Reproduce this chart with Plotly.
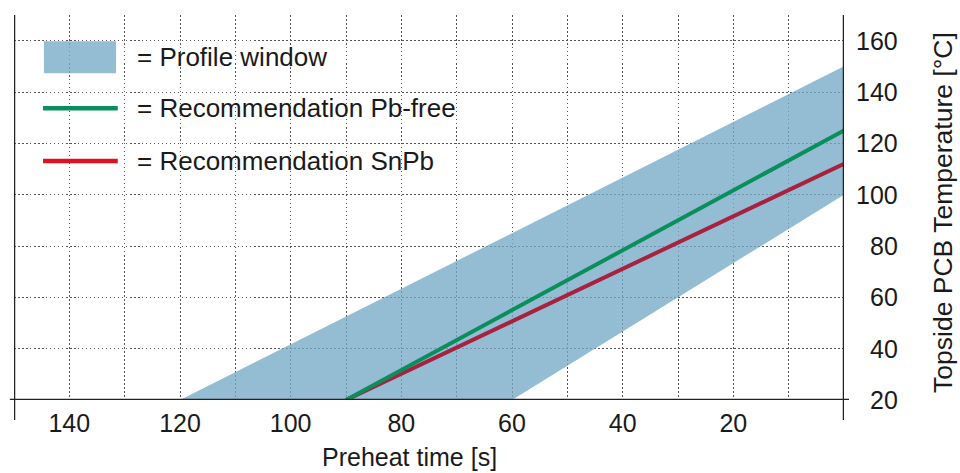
import plotly.graph_objects as go

# ---- data ----
x_ticks = [140, 120, 100, 80, 60, 40, 20]
x_grid = [10, 20, 30, 40, 50, 60, 70, 80, 90, 100, 110, 120, 130, 140]
y_ticks = [20, 40, 60, 80, 100, 120, 140, 160]

band_upper_x = [120, 0]
band_upper_y = [20, 150]
band_lower_x = [0, 60]
band_lower_y = [100, 20]

pbfree_x = [90, 0]
pbfree_y = [20, 125]
snpb_x = [90, 0]
snpb_y = [20, 112]

legend_labels = ["= Profile window", "= Recommendation Pb-free", "= Recommendation SnPb"]

FONT = "Liberation Sans, Arial, sans-serif"
TXT = "#1a1a1a"
BAND_FILL = "rgba(118,170,200,0.78)"
GREEN = "#0a8f5c"
RED_LINE = "#a82240"
RED_LEG = "#e0101e"
GRID = "#555555"
GRID_DASH = "1.5px,2.5px"

fig = go.Figure()

# dummy trace to activate grid axis x2
fig.add_trace(go.Scatter(x=[None], y=[None], xaxis="x2", showlegend=False, hoverinfo="skip"))

fig.add_trace(go.Scatter(
    x=band_upper_x + band_lower_x,
    y=band_upper_y + band_lower_y,
    fill="toself", fillcolor=BAND_FILL,
    line=dict(width=0), mode="lines", hoverinfo="skip", showlegend=False,
))
fig.add_trace(go.Scatter(x=snpb_x, y=snpb_y, mode="lines",
                         line=dict(color=RED_LINE, width=4), showlegend=False))
fig.add_trace(go.Scatter(x=pbfree_x, y=pbfree_y, mode="lines",
                         line=dict(color=GREEN, width=4), showlegend=False))

shapes = []
# axis lines
shapes.append(dict(type="line", xref="paper", yref="y", x0=-0.005, x1=1.006,
                   y0=20, y1=20, line=dict(color="#222", width=2.5), layer="above"))
shapes.append(dict(type="line", xref="x", yref="paper", x0=150, x1=150,
                   y0=-0.052, y1=1.0, line=dict(color="#222", width=2.5), layer="above"))
shapes.append(dict(type="line", xref="x", yref="paper", x0=0, x1=0,
                   y0=-0.052, y1=1.0, line=dict(color="#222", width=2.5), layer="above"))
# legend swatches
shapes.append(dict(type="rect", xref="paper", yref="paper", x0=0.036, x1=0.123,
                   y0=0.849, y1=0.932, fillcolor=BAND_FILL, line=dict(width=0), layer="above"))
shapes.append(dict(type="line", xref="paper", yref="paper", x0=0.035, x1=0.125,
                   y0=0.758, y1=0.758, line=dict(color=GREEN, width=4.5), layer="above"))
shapes.append(dict(type="line", xref="paper", yref="paper", x0=0.035, x1=0.125,
                   y0=0.621, y1=0.621, line=dict(color=RED_LEG, width=4.5), layer="above"))

annotations = []
for lab, yy in zip(legend_labels, [0.891, 0.758, 0.621]):
    annotations.append(dict(text=lab, xref="paper", yref="paper", x=0.146, y=yy,
                            xanchor="left", yanchor="middle", showarrow=False,
                            font=dict(family=FONT, size=26, color=TXT)))
for v in y_ticks:
    annotations.append(dict(text=str(v), xref="paper", yref="y", x=1.0675, y=v,
                            xanchor="right", yanchor="middle", showarrow=False,
                            font=dict(family=FONT, size=25, color=TXT)))
annotations.append(dict(text="Topside PCB Temperature [°C]", xref="paper", yref="paper",
                        x=1.119, y=0.488, textangle=-90, showarrow=False,
                        xanchor="center", yanchor="middle",
                        font=dict(family=FONT, size=26.5, color=TXT)))
annotations.append(dict(text="Preheat time [s]", xref="paper", yref="paper",
                        x=0.477, y=-0.148, showarrow=False,
                        xanchor="center", yanchor="middle",
                        font=dict(family=FONT, size=25, color=TXT)))

fig.update_layout(
    width=960, height=473,
    margin=dict(l=14, r=116, t=15, b=73),
    paper_bgcolor="white", plot_bgcolor="white",
    shapes=shapes, annotations=annotations,
    showlegend=False,
    xaxis=dict(range=[150, 0], tickvals=x_ticks, ticktext=[str(v) for v in x_ticks],
               showgrid=False, zeroline=False, showline=False,
               ticks="outside", ticklen=1, tickcolor="rgba(0,0,0,0)",
               tickfont=dict(family=FONT, size=25, color=TXT)),
    yaxis=dict(range=[20, 170], tickvals=y_ticks, showticklabels=False,
               showgrid=True, gridcolor=GRID, griddash=GRID_DASH, gridwidth=1.2,
               zeroline=False, showline=False),
    xaxis2=dict(overlaying="x", range=[150, 0], tickvals=x_grid, showticklabels=False,
                showgrid=True, gridcolor=GRID, griddash=GRID_DASH, gridwidth=1.2,
                zeroline=False, showline=False),
)

fig.write_html("out.html", config={"displayModeBar": False},
               post_script="document.body.style.margin='0';document.body.style.overflow='hidden';")
